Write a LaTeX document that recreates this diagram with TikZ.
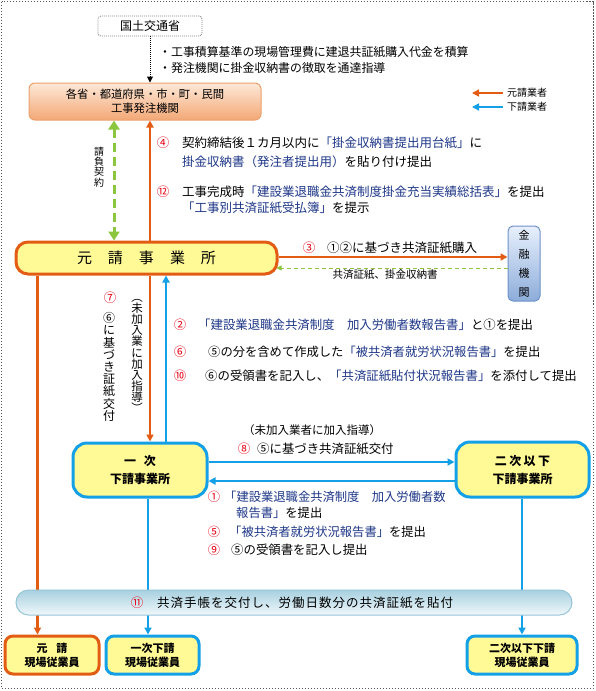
\documentclass[tikz,border=0pt]{standalone}
\usepackage{fontspec}
\setmainfont{Noto Sans CJK JP}
\usetikzlibrary{arrows.meta}
\definecolor{org}{RGB}{226,92,20}
\definecolor{blu}{RGB}{20,160,230}
\definecolor{grn}{RGB}{140,198,63}
\definecolor{dblu}{RGB}{30,55,135}
\definecolor{rd}{RGB}{230,0,18}
\definecolor{ylw}{RGB}{255,250,150}
\newcommand{\myfs}[2]{\fontsize{#1pt}{#2pt}\selectfont}
\newcommand{\bl}[1]{\textcolor{dblu}{#1}}
\pgfdeclarelayer{bg}
\pgfsetlayers{bg,main}
\tikzset{
  txt/.style={inner sep=0pt, anchor=west, font=\myfs{12.5}{14}},
  num/.style={inner sep=0pt, text=rd, font=\myfs{12.5}{14}},
  oarrow/.style={draw=org, line width=2.5pt, -{Triangle[length=7pt,width=7pt]}},
  barrow/.style={draw=blu, line width=2.5pt, -{Triangle[length=7pt,width=7pt]}},
  garrow/.style={draw=grn, line width=3pt, dash pattern=on 9pt off 5pt, {Triangle[length=9pt,width=11pt]}-{Triangle[length=9pt,width=11pt]}},
  gthin/.style={draw=grn, line width=1pt, dash pattern=on 4pt off 3pt, -{Triangle[length=5pt,width=5pt]}},
  govbox/.style={draw=gray, dash pattern=on 1pt off 1pt, line width=0.8pt, rounded corners=3pt, minimum width=104pt, minimum height=20pt, inner sep=0pt, font=\myfs{12}{14}},
  hbox/.style={draw={rgb,255:red,235;green,160;blue,110}, line width=1pt, rounded corners=6pt, top color={rgb,255:red,253;green,232;blue,215}, bottom color={rgb,255:red,243;green,168;blue,118}, minimum width=232pt, minimum height=37pt, inner sep=0pt, align=center, font=\myfs{11.3}{14}},
  obox/.style={draw=org, line width=3pt, fill=ylw, inner sep=0pt, align=center},
  bbox/.style={draw=blu, line width=3pt, fill=ylw, inner sep=0pt, align=center},
  bankbox/.style={draw={rgb,255:red,110;green,145;blue,200}, line width=1pt, rounded corners=5pt, top color={rgb,255:red,232;green,240;blue,252}, bottom color={rgb,255:red,140;green,172;blue,218}, minimum width=32pt, minimum height=75pt, inner sep=0pt, align=center, font=\myfs{11}{19}},
  barbox/.style={draw={rgb,255:red,150;green,196;blue,215}, line width=1pt, rounded corners=12.5pt, top color={rgb,255:red,168;green,208;blue,224}, bottom color={rgb,255:red,240;green,248;blue,250}, minimum width=556pt, minimum height=25pt, inner sep=0pt},
  vtxt/.style={inner sep=0pt, align=center}
}
\begin{document}
\begin{tikzpicture}[x=1pt,y=-1pt]
\useasboundingbox (0,0) rectangle (595,691);
\draw[gray!70!black, dash pattern=on 1.5pt off 1.5pt, line width=0.8pt] (1.5,1.5) rectangle (593,688.5);

% boxes
\node[govbox] (gov) at (150,26) {国土交通省};
\node[hbox] (hatchu) at (145,101.5) {各省・都道府県・市・町・民間\\工事発注機関};
\node[obox, rounded corners=12pt, minimum width=261pt, minimum height=32pt, font=\myfs{15}{17}] (motouke) at (146.5,258) {元\hspace{16pt}請\hspace{16pt}事\hspace{16pt}業\hspace{16pt}所};
\node[bankbox] (bank) at (524,263.5) {金\\融\\機\\関};
\node[bbox, rounded corners=14pt, minimum width=134pt, minimum height=54pt, font=\bfseries\myfs{12}{18}] (ichiji) at (140,470) {一\hspace{8pt}次\\下請事業所};
\node[bbox, rounded corners=14pt, minimum width=133pt, minimum height=55pt, font=\bfseries\myfs{12}{18}] (niji) at (522.5,469.5) {二\hspace{2.5pt}次\hspace{2.5pt}以\hspace{2.5pt}下\\下請事業所};
\node[barbox] (bar) at (294,602.5) {};
\node[obox, rounded corners=8pt, minimum width=94pt, minimum height=38pt, font=\bfseries\myfs{11}{14}] (emp1) at (52,655) {元\hspace{9pt}請\\現場従業員};
\node[bbox, rounded corners=8pt, minimum width=93pt, minimum height=38pt, font=\bfseries\myfs{11}{14}] (emp2) at (152.5,655) {一次下請\\現場従業員};
\node[bbox, rounded corners=8pt, minimum width=110pt, minimum height=38pt, font=\bfseries\myfs{11}{14}] (emp3) at (522,655) {二次以下下請\\現場従業員};

% helper coordinates
\coordinate (gx) at (114,0);
\coordinate (ox) at (150,0);
\coordinate (bx) at (166,0);
\coordinate (lx) at (37.5,0);
\coordinate (ax) at (148,0);
\coordinate (nx) at (522,0);
\coordinate (y1) at (0,257);
\coordinate (y2) at (0,268);
\coordinate (y3) at (0,462);
\coordinate (y4) at (0,481);
\coordinate (me2) at ([xshift=-2pt]motouke.east);

% connectors
\draw[black, line width=1pt, dash pattern=on 1pt off 1pt, -{Triangle[length=6pt,width=6pt]}] (gov.south) -- (gov.south |- hatchu.north);
\draw[garrow] (gx |- hatchu.south) -- (gx |- motouke.north);
\draw[oarrow] (ox |- motouke.north) -- (ox |- hatchu.south);
\draw[oarrow] (motouke.east |- y1) -- (bank.west |- y1);
\draw[gthin] (bank.west |- y2) -- (me2 |- y2);
\draw[oarrow] (ox |- motouke.south) -- (ox |- ichiji.north);
\draw[barrow] (bx |- ichiji.north) -- (bx |- motouke.south);
\draw[barrow] (ichiji.east |- y3) -- (niji.west |- y3);
\draw[barrow] (niji.west |- y4) -- (ichiji.east |- y4);
\begin{pgfonlayer}{bg}
\draw[oarrow] (lx |- motouke.south) -- (lx |- emp1.north);
\draw[barrow] (ax |- ichiji.south) -- (ax |- emp2.north);
\draw[barrow] (nx |- niji.south) -- (nx |- emp3.north);
\end{pgfonlayer}

% legend
\coordinate (la) at (503,93);
\coordinate (lb) at (472,93);
\coordinate (lc) at (503,107);
\coordinate (ld) at (472,107);
\draw[oarrow, line width=1.5pt] (la) -- (lb);
\draw[barrow, line width=1.5pt] (lc) -- (ld);
\node[txt, font=\myfs{10}{12}] (leg1) at (507,93) {元請業者};
\node[txt, font=\myfs{10}{12}] (leg2) at (507,107) {下請業者};

% top notes
\node[txt, font=\myfs{11.9}{14}] (n1) at (159,52) {・工事積算基準の現場管理費に建退共証紙購入代金を積算};
\node[txt, font=\myfs{11.9}{14}] (n2) at (159,68) {・発注機関に掛金収納書の徴取を通達指導};

% contract label
\node[vtxt, font=\myfs{10}{10.4}] (keiyaku) at (99,167) {請\\負\\契\\約};

% 4 and 12
\node[num] (c4) at (163,143) {④};
\node[txt] (t4a) at (182,143) {契約締結後１カ月以内に\bl{「掛金収納書提出用台紙」}に};
\node[txt] (t4b) at (182,162) {\bl{掛金収納書（発注者提出用）}を貼り付け提出};
\node[num] (c12) at (163,192) {⑫};
\node[txt] (t12a) at (182,192) {工事完成時\bl{「建設業退職金共済制度掛金充当実績総括表」}を提出};
\node[txt] (t12b) at (182,208) {\bl{「工事別共済証紙受払簿」}を提示};

% 3
\node[num] (c3) at (309,248) {③};
\node[txt] (t3) at (327,248) {①②に基づき共済証紙購入};
\node[inner sep=0pt, font=\myfs{10.5}{12}] (t3b) at (385,275) {共済証紙、掛金収納書};

% 7 vertical
\node[num] (c7) at (110,298) {⑦};
\node[vtxt, font=\myfs{12}{12.2}] (t7) at (109,367) {⑥\\に\\基\\づ\\き\\証\\紙\\交\\付};
\node[vtxt, font=\myfs{11.5}{11.1}] (t7b) at (137,356) {︵\\未\\加\\入\\業\\に\\加\\入\\指\\導\\︶};

% 2 6 10
\node[num, font=\myfs{12.4}{14}] (c2) at (180,325) {②};
\node[txt, font=\myfs{12.4}{14}] (t2) at (198,325) {\bl{「建設業退職金共済制度　加入労働者数報告書」}と①を提出};
\node[num, font=\myfs{12.4}{14}] (c6) at (180,352) {⑥};
\node[txt, font=\myfs{12.3}{14}] (t6) at (208,352) {⑤の分を含めて作成した\bl{「被共済者就労状況報告書」}を提出};
\node[num, font=\myfs{12.4}{14}] (c10) at (180,376) {⑩};
\node[txt, font=\myfs{12.4}{14}] (t10) at (205,376) {⑥の受領書を記入し、\bl{「共済証紙貼付状況報告書」}を添付して提出};

% 8
\node[inner sep=0pt, font=\myfs{11.5}{14}] (t8a) at (312,430) {（未加入業者に加入指導）};
\node[num] (c8) at (244,449) {⑧};
\node[txt, font=\myfs{12.4}{14}] (t8) at (257,449) {⑤に基づき共済証紙交付};

% 1 5 9
\node[num, font=\myfs{12.3}{14}] (c1) at (214,497) {①};
\node[txt, font=\myfs{12.3}{14}] (t1a) at (224,497) {\bl{「建設業退職金共済制度　加入労働者数}};
\node[txt, font=\myfs{12.3}{14}] (t1b) at (236,513) {\bl{報告書」}を提出};
\node[num, font=\myfs{12.3}{14}] (c5) at (214,532) {⑤};
\node[txt, font=\myfs{12.3}{14}] (t5) at (229,532) {\bl{「被共済者就労状況報告書」}を提出};
\node[num, font=\myfs{12.3}{14}] (c9) at (214,550) {⑨};
\node[txt, font=\myfs{12.4}{14}] (t9) at (231,550) {⑤の受領書を記入し提出};

% 11
\node[num] (c11) at (137,603) {⑪};
\node[txt, font=\myfs{12.5}{14}\addfontfeatures{LetterSpace=8}] (t11) at (157,603) {共済手帳を交付し、労働日数分の共済証紙を貼付};
\end{tikzpicture}
\end{document}
